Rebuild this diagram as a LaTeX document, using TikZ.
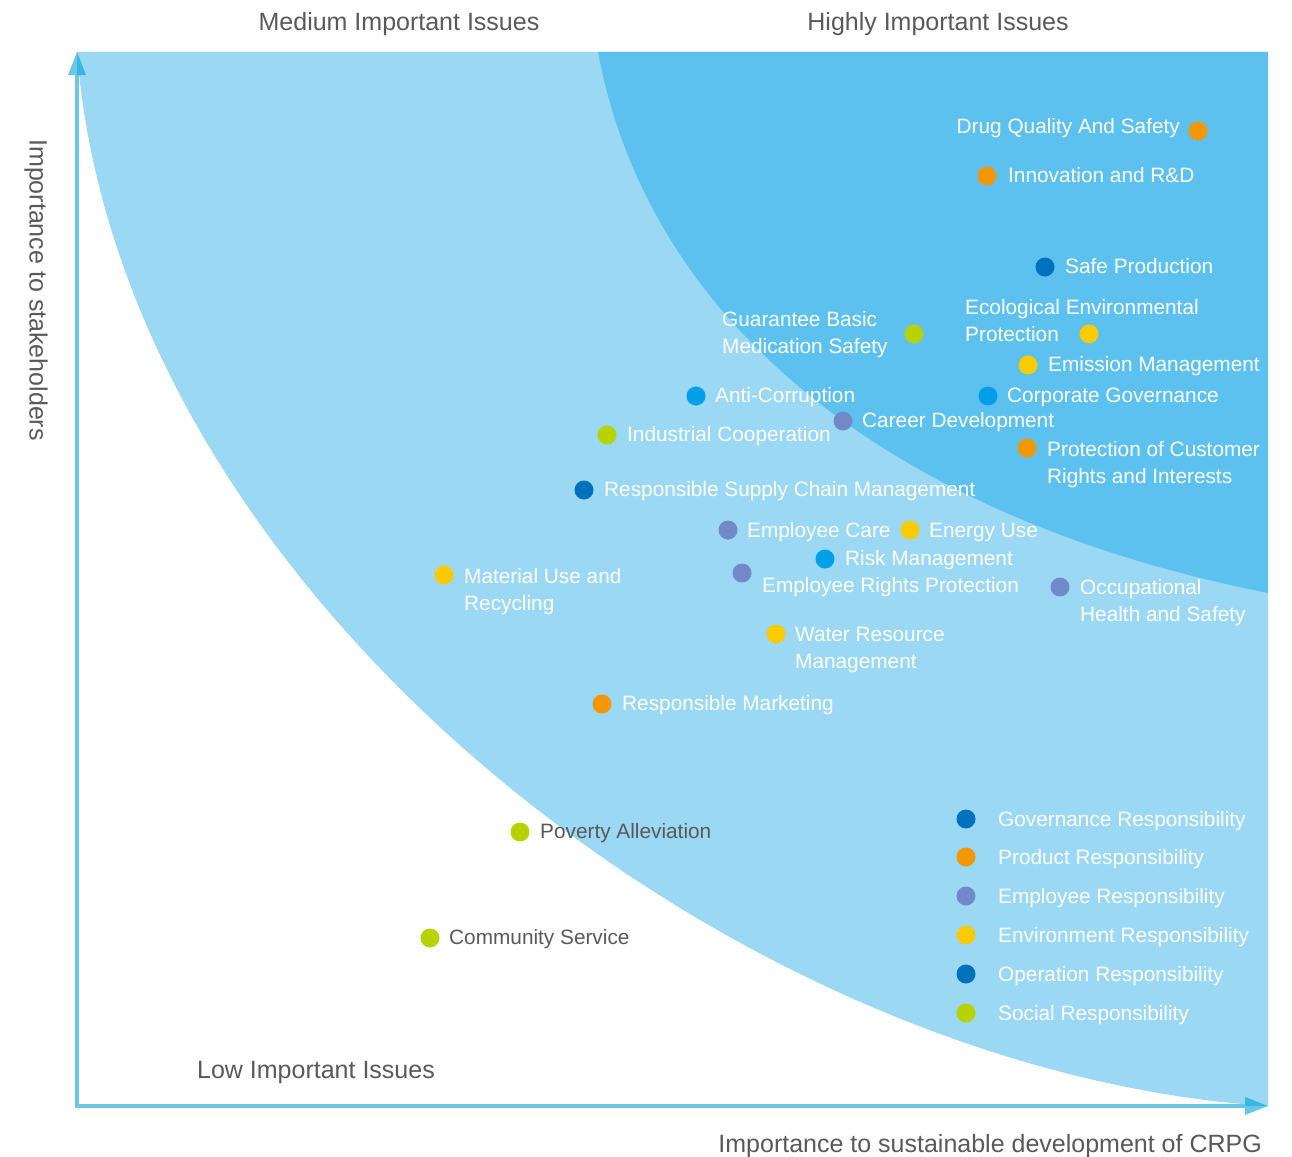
\documentclass[tikz,border=0pt]{standalone}
\usepackage{fontspec}
\setmainfont{Liberation Sans}
\definecolor{lightreg}{HTML}{9BD8F4}
\definecolor{darkreg}{HTML}{5DC1F0}
\definecolor{axisc}{HTML}{6CC7E7}
\definecolor{axisd}{HTML}{3BB4E6}
\definecolor{cgov}{HTML}{0071BC}
\definecolor{cprod}{HTML}{F39800}
\definecolor{cemp}{HTML}{7189C8}
\definecolor{cenv}{HTML}{FACC00}
\definecolor{cblue}{HTML}{00A0E9}
\definecolor{csoc}{HTML}{B8D200}
\definecolor{txtgray}{HTML}{595959}
\newcommand{\lblfont}{\fontsize{20.8}{27}\selectfont}
\newcommand{\hdfont}{\fontsize{25}{30}\selectfont}
\tikzset{
  issuedot/.style={circle, inner sep=0pt, minimum size=19pt, draw=none},
  lbl/.style={anchor=west, inner sep=0pt, font=\lblfont, text=white, align=left,
    yshift=-1.6pt, execute at begin node=\strut, execute at end node=\strut},
  lbltwo/.style={lbl, yshift=-4.1pt},
  lblg/.style={lbl, text=txtgray},
  head/.style={inner sep=0pt, font=\hdfont, text=txtgray, anchor=base},
}
\begin{document}
\begin{tikzpicture}[x=1pt,y=-1pt]
\useasboundingbox (0,0) rectangle (1292,1156);
% regions
\fill[lightreg] (77,52) -- (1268,52) -- (1268,1106) .. controls (740,1072) and (120,600) .. (77,52) -- cycle;
\fill[darkreg] (598,52) -- (1268,52) -- (1268,593) .. controls (900,520) and (650,330) .. (598,52) -- cycle;
% axes
\coordinate (origin) at (77,1106);
\coordinate (ytip) at (77,52);
\coordinate (xtip) at (1268,1106);
\draw[axisc, line width=4pt] (origin) -- (77,74);
\draw[axisc, line width=4pt] (75,1106) -- (1246,1106);
\fill[axisc] (68,75) -- (ytip) -- (77,75) -- cycle;
\fill[axisd] (77,75) -- (ytip) -- (86,75) -- cycle;
\fill[axisd] (1245,1097) -- (xtip) -- (1245,1106) -- cycle;
\fill[axisc] (1245,1106) -- (xtip) -- (1245,1115) -- cycle;
% headings
\node[head] (hmed) at (399,31) {Medium Important Issues};
\node[head] (hhigh) at (938,31) {Highly Important Issues};
\node[head] (hlow) at (316,1078) {Low Important Issues};
\node[head, anchor=base east] (xlab) at (1262,1152) {Importance to sustainable development of CRPG};
\node[inner sep=0pt, font=\hdfont, text=txtgray, rotate=-90] (ylab) at (36,290) {Importance to stakeholders};
% issues
\node[issuedot, fill=cprod] (d1) at (1198,131) {};
\node[lbl, anchor=east] (l1) at (1180,126) {Drug Quality And Safety};
\node[issuedot, fill=cprod] (d2) at (987,176) {};
\node[lbl] (l2) at (1008,175) {Innovation and R\&D};
\node[issuedot, fill=cgov] (d3) at (1045,267) {};
\node[lbl] (l3) at (1065,266) {Safe Production};
\node[issuedot, fill=cenv] (d4) at (1089,334) {};
\node[lbltwo] (l4) at (965,319) {Ecological Environmental\\Protection};
\node[issuedot, fill=csoc] (d5) at (914,334) {};
\node[lbltwo] (l5) at (722,330.5) {Guarantee Basic\\Medication Safety};
\node[issuedot, fill=cenv] (d6) at (1028,365) {};
\node[lbl] (l6) at (1048,364) {Emission Management};
\node[issuedot, fill=cblue] (d7) at (696,396) {};
\node[lbl] (l7) at (715,395) {Anti-Corruption};
\node[issuedot, fill=cblue] (d8) at (988,396) {};
\node[lbl] (l8) at (1007,395) {Corporate Governance};
\node[issuedot, fill=cemp] (d9) at (843,421) {};
\node[lbl] (l9) at (862,420) {Career Development};
\node[issuedot, fill=csoc] (d10) at (607,435) {};
\node[lbl] (l10) at (627,434) {Industrial Cooperation};
\node[issuedot, fill=cprod] (d11) at (1027,448) {};
\node[lbltwo] (l11) at (1047,460.5) {Protection of Customer\\Rights and Interests};
\node[issuedot, fill=cgov] (d12) at (584,490) {};
\node[lbl] (l12) at (604,489) {Responsible Supply Chain Management};
\node[issuedot, fill=cemp] (d13) at (728,530) {};
\node[lbl] (l13) at (747,530) {Employee Care};
\node[issuedot, fill=cenv] (d14) at (910,530) {};
\node[lbl] (l14) at (929,530) {Energy Use};
\node[issuedot, fill=cblue] (d15) at (825,559) {};
\node[lbl] (l15) at (845,558) {Risk Management};
\node[issuedot, fill=cenv] (d16) at (444,575) {};
\node[lbltwo] (l16) at (464,587.5) {Material Use and\\Recycling};
\node[issuedot, fill=cemp] (d17) at (742,573) {};
\node[lbl] (l17) at (762,585) {Employee Rights Protection};
\node[issuedot, fill=cemp] (d18) at (1060,587) {};
\node[lbltwo] (l18) at (1080,599) {Occupational\\Health and Safety};
\node[issuedot, fill=cenv] (d19) at (776,634) {};
\node[lbltwo] (l19) at (795,646.5) {Water Resource\\Management};
\node[issuedot, fill=cprod] (d20) at (602,704) {};
\node[lbl] (l20) at (622,703) {Responsible Marketing};
\node[issuedot, fill=csoc] (d21) at (520,832) {};
\node[lblg] (l21) at (540,831) {Poverty Alleviation};
\node[issuedot, fill=csoc] (d22) at (430,938) {};
\node[lblg] (l22) at (449,937) {Community Service};
% legend
\node[issuedot, fill=cgov] (k1) at (966,819) {};
\node[lbl] (t1) at (998,819) {Governance Responsibility};
\node[issuedot, fill=cprod] (k2) at (966,857) {};
\node[lbl] (t2) at (998,857) {Product Responsibility};
\node[issuedot, fill=cemp] (k3) at (966,896) {};
\node[lbl] (t3) at (998,896) {Employee Responsibility};
\node[issuedot, fill=cenv] (k4) at (966,935) {};
\node[lbl] (t4) at (998,935) {Environment Responsibility};
\node[issuedot, fill=cgov] (k5) at (966,974) {};
\node[lbl] (t5) at (998,974) {Operation Responsibility};
\node[issuedot, fill=csoc] (k6) at (966,1013) {};
\node[lbl] (t6) at (998,1013) {Social Responsibility};
\end{tikzpicture}
\end{document}
